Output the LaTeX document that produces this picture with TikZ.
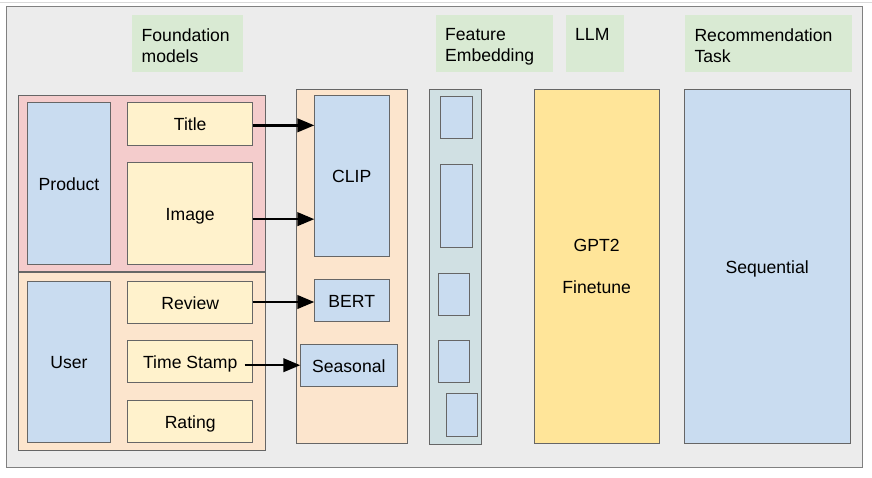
\documentclass[tikz,border=0pt]{standalone}
\usepackage{fontspec}
\setmainfont{Liberation Sans}
\usetikzlibrary{arrows.meta,positioning,calc}
\definecolor{panelgrey}{HTML}{ECECEC}
\definecolor{tagGreen}{HTML}{D9EAD3}
\definecolor{prodPink}{HTML}{F4CCCC}
\definecolor{userPeach}{HTML}{FCE5CD}
\definecolor{boxBlue}{HTML}{C9DCF0}
\definecolor{boxYellow}{HTML}{FFF2CC}
\definecolor{colCyan}{HTML}{D0E0E3}
\definecolor{llmYellow}{HTML}{FFE599}
\tikzstyle{box} = [rectangle, draw=black!60, line width=0.8pt, text centered, outer sep=0pt, inner sep=0pt, anchor=north west]
\tikzstyle{bluebox} = [box, fill=boxBlue, text height=16pt, text depth=2pt]
\tikzstyle{yelbox} = [box, fill=boxYellow, text height=16pt, text depth=2pt]
\tikzstyle{tag} = [rectangle, fill=tagGreen, outer sep=0pt, inner sep=0pt, anchor=north west, minimum height=57pt]
\tikzstyle{tagtext} = [anchor=north west, align=left, inner sep=0pt]
\tikzstyle{arr} = [-{Triangle[length=17pt,width=13.5pt]}, line width=2.5pt]

\begin{document}
\begin{tikzpicture}[x=1pt, y=-1pt, font=\fontsize{17.6}{21}\selectfont]
    \useasboundingbox (0,0) rectangle (872,477);
    \draw[black!15, line width=1pt] (0,2) -- (872,2);
    \node[box, draw=black!50, fill=panelgrey, minimum width=856pt, minimum height=461pt] (panel) at (6,6) {};

    % column headers
    \node[tag, minimum width=111pt] (fmtag) at (132,15) {};
    \node[tag, minimum width=117pt] (fetag) at (436,15) {};
    \node[tag, minimum width=58pt] (llmtag) at (566,15) {};
    \node[tag, minimum width=167pt] (rectag) at (685,15) {};
    \node[tagtext] (fmtext) at (141.5,28.3) {Foundation\\models};
    \node[tagtext] (fetext) at (445,28.3) {Feature\\Embedding};
    \node[tagtext] (llmtext) at (575,28.3) {LLM};
    \node[tagtext] (rectext) at (694.3,28.3) {Recommendation\\Task};

    % inputs
    \node[box, fill=prodPink, minimum width=247.4pt, minimum height=176.7pt] (prodgrp) at (18.3,95) {};
    \node[box, fill=userPeach, minimum width=247.4pt, minimum height=177.3pt] (usergrp) at (18.3,272.7) {};
    \node[bluebox, minimum width=83.4pt, minimum height=161.3pt] (product) at (27.3,102.7) {Product};
    \node[yelbox, minimum width=125pt, minimum height=42.3pt] (title) at (127.7,102.7) {Title};
    \node[yelbox, minimum width=125pt, minimum height=101.7pt] (image) at (127.7,162.3) {Image};
    \node[bluebox, minimum width=83.4pt, minimum height=161pt] (user) at (27.3,281) {User};
    \node[yelbox, minimum width=125pt, minimum height=42pt] (review) at (127.7,281) {Review};
    \node[yelbox, minimum width=125pt, minimum height=42pt] (tstamp) at (127.7,340.7) {Time Stamp};
    \node[yelbox, minimum width=125pt, minimum height=42pt] (rating) at (127.7,400) {Rating};

    % foundation models
    \node[box, fill=userPeach, minimum width=110.6pt, minimum height=354.3pt] (fmcol) at (296.7,89) {};
    \node[bluebox, minimum width=75pt, minimum height=161pt] (clip) at (314.3,95) {CLIP};
    \node[bluebox, minimum width=75pt, minimum height=42pt] (bert) at (314.3,279) {BERT};
    \node[bluebox, minimum width=97pt, minimum height=42pt] (seasonal) at (300.3,344) {Seasonal};

    % feature embedding
    \node[box, fill=colCyan, minimum width=52.4pt, minimum height=355pt] (fecol) at (429.3,89) {};
    \node[bluebox, minimum width=31.6pt, minimum height=42pt] (emb1) at (440.7,96.7) {};
    \node[bluebox, minimum width=31.6pt, minimum height=83pt] (emb2) at (440.7,164) {};
    \node[bluebox, minimum width=31.4pt, minimum height=42pt] (emb3) at (438.3,273.3) {};
    \node[bluebox, minimum width=31.4pt, minimum height=42pt] (emb4) at (438.3,340.7) {};
    \node[bluebox, minimum width=31.4pt, minimum height=42.3pt] (emb5) at (446.3,393.7) {};

    % llm and task
    \node[box, fill=llmYellow, align=center, minimum width=124.7pt, minimum height=354.7pt] (gpt) at (534.3,89) {GPT2\\[21pt]Finetune};
    \node[bluebox, minimum width=165.7pt, minimum height=354.7pt] (seq) at (684.3,89) {Sequential};

    \path[arr] ([yshift=-1.5pt]title.east) edge ([yshift=-1.5pt]title.east -| clip.west);
    \path[arr] ([yshift=-6pt]image.east) edge ([yshift=-6pt]image.east -| clip.west);
    \path[arr] (review.east) edge (review.east -| bert.west);
    \path[arr, shorten <=-8pt] ([yshift=-3.5pt]tstamp.east) edge ([yshift=-3.5pt]tstamp.east -| seasonal.west);

\end{tikzpicture}
\end{document}
